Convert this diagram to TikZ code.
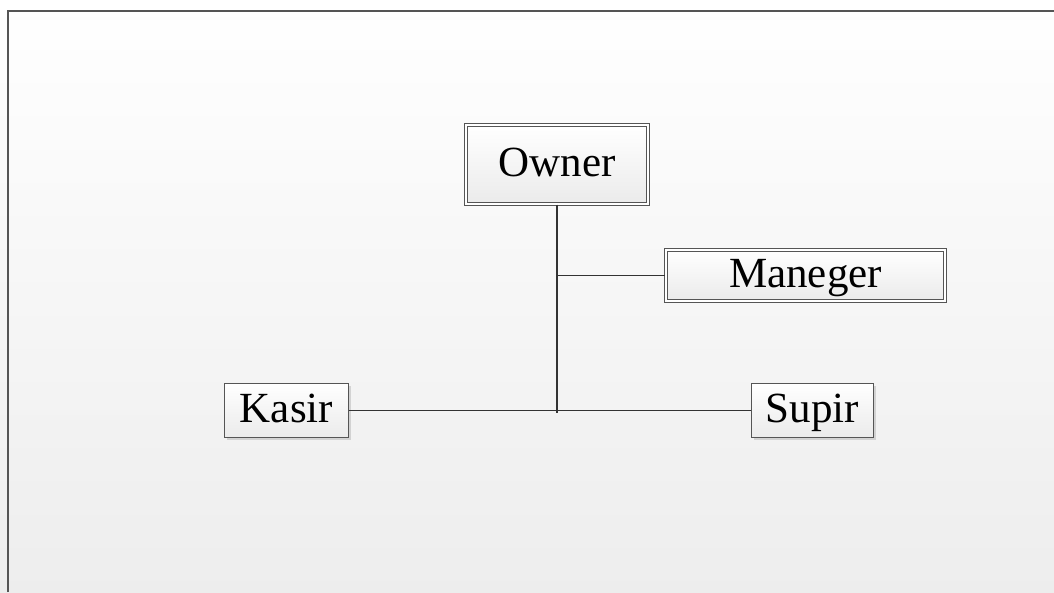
\documentclass[tikz,border=0pt]{standalone}
\usepackage{fontspec}
\setmainfont{Liberation Serif}
\usetikzlibrary{shadows}
\definecolor{frame}{HTML}{555555}
\definecolor{edgec}{HTML}{333333}
\tikzset{
  box/.style={draw=frame, line width=0.9pt, top color=white, bottom color=black!8,
    inner sep=0pt, text height=24pt, text depth=0pt, align=center,
    font=\fontsize{43}{43}\selectfont,
    drop shadow={shadow xshift=2pt, shadow yshift=-2pt, opacity=0.35, fill=black!40}},
  dbox/.style={box, double=white, double distance=2pt, line width=0.8pt},
  conn/.style={draw=edgec, line width=1.1pt}
}
\begin{document}
\begin{tikzpicture}[x=1pt,y=-1pt]
\useasboundingbox (0,0) rectangle (1054,592);
\shade[top color=white, bottom color=black!7] (0,0) rectangle (1054,592);
\draw[frame, line width=1.6pt] (8,592) -- (8,11) -- (1054,11);
\node[dbox, minimum width=182.4pt, minimum height=79.4pt] (owner) at (557,164.5) {Owner};
\node[dbox, minimum width=279.4pt, minimum height=51.4pt] (man) at (805.5,275.5) {Maneger};
\node[box, minimum width=124pt, minimum height=54pt] (kasir) at (286.5,410.5) {Kasir};
\node[box, minimum width=122pt, minimum height=54pt] (supir) at (812.5,410.5) {Supir};
\coordinate (j) at (557,413);
\draw[conn] (owner.south) -- (j);
\draw[conn] (owner.south |- man.west) -- (man.west);
\draw[conn] (kasir.east) -- (supir.west);
\end{tikzpicture}
\end{document}
